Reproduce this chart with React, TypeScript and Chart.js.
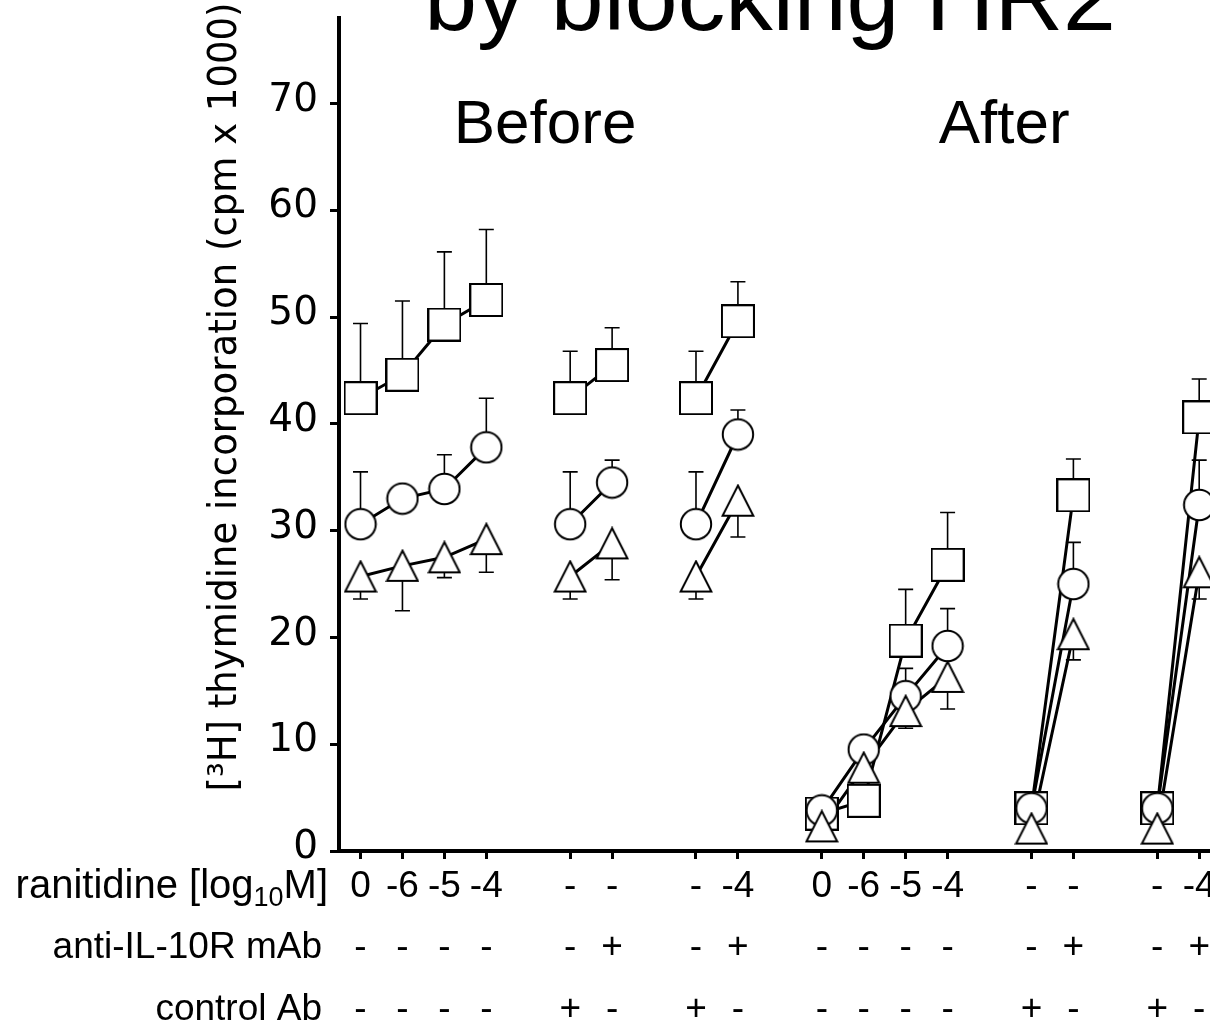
import { useEffect, useRef } from "react";
import { Chart, registerables } from "chart.js";

Chart.register(...registerables);

// Column positions on the x scale; gaps separate the treatment groups
const positions = [0, 1, 2, 3, 5, 6, 8, 9, 11, 12, 13, 14, 16, 17, 19, 20];
const groups = [0, 0, 0, 0, 1, 1, 2, 2, 3, 3, 3, 3, 4, 4, 5, 5];

// Three rows of condition labels under the x axis
const ranitidineLabels = ["0", "-6", "-5", "-4", "-", "-", "-", "-4", "0", "-6", "-5", "-4", "-", "-", "-", "-4"];
const antiIL10RLabels = ["-", "-", "-", "-", "-", "+", "-", "+", "-", "-", "-", "-", "-", "+", "-", "+"];
const controlAbLabels = ["-", "-", "-", "-", "+", "-", "+", "-", "-", "-", "-", "-", "+", "-", "+", "-"];
const rowHeaders = ["anti-IL-10R mAb", "control Ab"];

// Means and SEM, cpm x 1000
const squareMeans = [42.4, 44.6, 49.3, 51.6, 42.4, 45.5, 42.4, 49.6, 3.5, 4.7, 19.7, 26.8, 4.0, 33.3, 4.0, 40.6];
const squareSem = [7.0, 6.9, 6.8, 6.6, 4.4, 3.5, 4.4, 3.7, 0, 0, 4.8, 4.9, 0, 3.4, 0, 3.6];
const circleMeans = [30.6, 33.0, 33.9, 37.8, 30.6, 34.5, 30.6, 39.0, 3.8, 9.5, 14.5, 19.2, 4.0, 25.0, 4.0, 32.4];
const circleSem = [4.9, 1.2, 3.2, 4.6, 4.9, 2.1, 4.9, 2.3, 0, 1.0, 2.6, 3.5, 0, 3.9, 0, 4.2];
const triangleMeans = [25.7, 26.7, 27.5, 29.2, 25.7, 28.8, 25.7, 32.8, 2.3, 7.8, 13.1, 16.3, 2.1, 20.3, 2.1, 26.1];
const triangleSem = [2.1, 4.2, 1.9, 3.1, 2.1, 3.4, 2.1, 3.4, 0, 0.5, 1.6, 3.0, 0, 2.4, 0, 2.5];

const yTicks = [0, 10, 20, 30, 40, 50, 60, 70];

const ARIAL = '"Liberation Sans", Arial, Helvetica, sans-serif';
const VERDANA = '"DejaVu Sans", Verdana, sans-serif';

const X_TICK_LEN = 8;
const X_LABEL_PAD = -3;
const X_FONT_SIZE = 37;
const X_LINE_HEIGHT = 1.662;

type Kind = "square" | "circle" | "triangle";

function makeMarker(kind: Kind): HTMLCanvasElement {
  const c = document.createElement("canvas");
  c.width = 34;
  c.height = 34;
  const g = c.getContext("2d")!;
  g.fillStyle = "#fff";
  g.strokeStyle = "#000";
  g.lineWidth = 2;
  g.beginPath();
  if (kind === "square") {
    g.rect(1, 1, 32, 32);
  } else if (kind === "circle") {
    g.arc(17, 17, 15.2, 0, Math.PI * 2);
  } else {
    g.moveTo(17, 1.8);
    g.lineTo(32.4, 32);
    g.lineTo(1.6, 32);
    g.closePath();
  }
  g.fill();
  g.stroke();
  return c;
}

function toPoints(values: number[]) {
  const pts: { x: number; y: number | null }[] = [];
  positions.forEach((p, i) => {
    if (i > 0 && groups[i] !== groups[i - 1]) {
      pts.push({ x: (positions[i - 1] + p) / 2, y: null });
    }
    pts.push({ x: p, y: values[i] });
  });
  return pts;
}

export default function App() {
  const canvasRef = useRef<HTMLCanvasElement | null>(null);

  useEffect(() => {
    const canvas = canvasRef.current;
    if (!canvas) return;

    const series = [
      { means: triangleMeans, sem: triangleSem, dir: -1, marker: makeMarker("triangle") },
      { means: circleMeans, sem: circleSem, dir: 1, marker: makeMarker("circle") },
      { means: squareMeans, sem: squareSem, dir: 1, marker: makeMarker("square") },
    ];

    const errorBars = {
      id: "errorBars",
      beforeDatasetsDraw(chart: any) {
        const { ctx } = chart;
        const xs = chart.scales.x;
        const ys = chart.scales.y;
        ctx.save();
        ctx.strokeStyle = "#000";
        ctx.lineWidth = 1.6;
        series.forEach((s) => {
          s.means.forEach((m, i) => {
            const e = s.sem[i];
            if (!(e > 0)) return;
            const x = xs.getPixelForValue(positions[i]);
            const y0 = ys.getPixelForValue(m);
            const y1 = ys.getPixelForValue(m + s.dir * e);
            ctx.beginPath();
            ctx.moveTo(x, y0);
            ctx.lineTo(x, y1);
            ctx.moveTo(x - 7.5, y1);
            ctx.lineTo(x + 7.5, y1);
            ctx.stroke();
          });
        });
        ctx.restore();
      },
    };

    const annotations = {
      id: "annotations",
      afterDraw(chart: any) {
        const { ctx } = chart;
        const xs = chart.scales.x;
        ctx.save();
        ctx.fillStyle = "#000";
        ctx.textBaseline = "alphabetic";
        ctx.textAlign = "center";

        ctx.font = `95px ${ARIAL}`;
        ctx.fillText("by blocking HR2", 770, 30);

        ctx.font = `62px ${ARIAL}`;
        ctx.fillText("Before", xs.getPixelForValue(4.4), 143);
        ctx.fillText("After", xs.getPixelForValue(15.35), 143);

        // y axis title, drawn vertically
        ctx.save();
        ctx.translate(236, 397);
        ctx.rotate(-Math.PI / 2);
        ctx.scale(0.95, 1);
        ctx.font = `39px ${VERDANA}`;
        ctx.fillText("[³H] thymidine incorporation (cpm x 1000)", 0, 0);
        ctx.restore();

        // row headers for the condition labels
        const lh = X_FONT_SIZE * X_LINE_HEIGHT;
        const rowY = (r: number) => xs.top + X_TICK_LEN + X_LABEL_PAD + lh * (r + 0.5);
        ctx.textBaseline = "middle";
        ctx.textAlign = "left";
        const right = 328;
        const mainFont = `40px ${ARIAL}`;
        const subFont = `27px ${ARIAL}`;
        ctx.font = mainFont;
        const w1 = ctx.measureText("ranitidine [log").width;
        const w3 = ctx.measureText("M]").width;
        ctx.font = subFont;
        const w2 = ctx.measureText("10").width;
        let x0 = right - (w1 + w2 + w3);
        const y0 = rowY(0);
        ctx.font = mainFont;
        ctx.fillText("ranitidine [log", x0, y0);
        x0 += w1;
        ctx.font = subFont;
        ctx.fillText("10", x0, y0 + 12);
        x0 += w2;
        ctx.font = mainFont;
        ctx.fillText("M]", x0, y0);

        ctx.font = `${X_FONT_SIZE}px ${ARIAL}`;
        ctx.textAlign = "right";
        ctx.fillText(rowHeaders[0], 322, rowY(1));
        ctx.fillText(rowHeaders[1], 322, rowY(2));
        ctx.restore();
      },
    };

    const chart = new Chart(canvas, {
      type: "line",
      data: {
        datasets: [
          ...series.map((s, k) => ({
            data: toPoints(s.means),
            showLine: false,
            pointStyle: s.marker,
            pointRadius: 17,
            order: k,
          })),
          ...series.map((s, k) => ({
            data: toPoints(s.means),
            showLine: true,
            spanGaps: false,
            borderColor: "#000",
            borderWidth: 3,
            pointRadius: 0,
            order: 10 + k,
          })),
        ],
      } as any,
      options: {
        animation: false,
        responsive: false,
        devicePixelRatio: 1,
        events: [],
        layout: { autoPadding: false, padding: { top: 18, left: 0, right: 0, bottom: 0 } },
        plugins: {
          legend: { display: false },
          tooltip: { enabled: false },
          title: { display: false },
        },
        scales: {
          x: {
            type: "linear",
            min: -0.513,
            max: 21.45,
            afterBuildTicks: (axis: any) => {
              axis.ticks = positions.map((v) => ({ value: v }));
            },
            afterFit: (axis: any) => {
              axis.height = 176;
              axis.paddingLeft = 0;
              axis.paddingRight = 0;
            },
            border: { display: true, color: "#000", width: 4 },
            grid: {
              drawOnChartArea: false,
              drawTicks: true,
              tickLength: X_TICK_LEN,
              tickWidth: 3,
              tickColor: "#000",
            },
            ticks: {
              autoSkip: false,
              maxRotation: 0,
              minRotation: 0,
              color: "#000",
              padding: X_LABEL_PAD,
              font: { family: ARIAL, size: X_FONT_SIZE, lineHeight: X_LINE_HEIGHT },
              callback: (value: any) => {
                const i = positions.indexOf(Number(value));
                if (i < 0) return "";
                return [ranitidineLabels[i], antiIL10RLabels[i], controlAbLabels[i]];
              },
            },
          },
          y: {
            type: "linear",
            min: 0,
            max: 78,
            afterBuildTicks: (axis: any) => {
              axis.ticks = yTicks.map((v) => ({ value: v }));
            },
            afterFit: (axis: any) => {
              axis.width = 339;
              axis.paddingTop = 0;
              axis.paddingBottom = 0;
            },
            border: { display: true, color: "#000", width: 4 },
            grid: {
              drawOnChartArea: false,
              drawTicks: true,
              tickLength: 9,
              tickWidth: 3,
              tickColor: "#000",
            },
            ticks: {
              color: "#000",
              padding: 12,
              labelOffset: -3,
              font: { family: VERDANA, size: 39 },
            },
          },
        },
      } as any,
      plugins: [errorBars, annotations],
    });

    return () => chart.destroy();
  }, []);

  return (
    <div
      style={{
        position: "absolute",
        left: 0,
        top: 0,
        width: 1210,
        height: 1027,
        overflow: "hidden",
        background: "#fff",
      }}
    >
      <canvas ref={canvasRef} width={1260} height={1027} style={{ display: "block" }} />
    </div>
  );
}
